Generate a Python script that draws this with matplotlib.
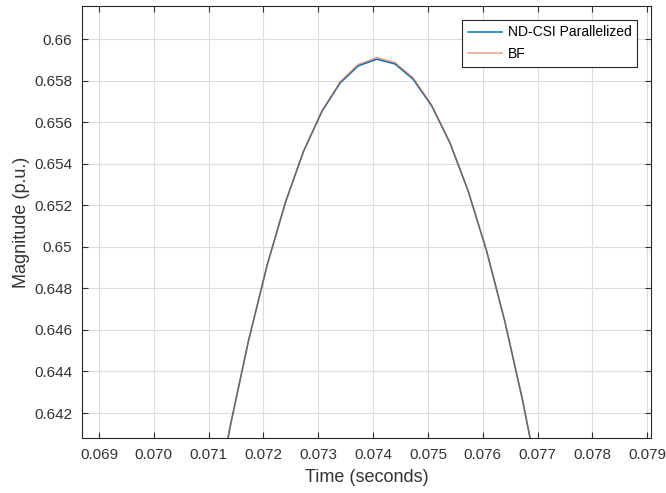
import matplotlib
matplotlib.use("Agg")
import matplotlib.pyplot as plt

# ---------------- DATA ----------------
time_s = [0.07107, 0.07140, 0.07173, 0.07207, 0.07240, 0.07273, 0.07307,
          0.07340, 0.07373, 0.07407, 0.07440, 0.07473, 0.07507, 0.07540,
          0.07573, 0.07607, 0.07640, 0.07673, 0.07707]

nd_csi = [0.63685, 0.64144, 0.64551, 0.64914, 0.65213, 0.65459, 0.65653,
          0.65789, 0.65871, 0.65903, 0.65880, 0.65807, 0.65678, 0.65501,
          0.65272, 0.64981, 0.64645, 0.64258, 0.63805]

bf = [0.63685, 0.64144, 0.64551, 0.64914, 0.65213, 0.65459, 0.65656,
      0.65794, 0.65878, 0.65910, 0.65887, 0.65813, 0.65682, 0.65503,
      0.65273, 0.64981, 0.64645, 0.64258, 0.63805]

x_ticks = [0.069, 0.070, 0.071, 0.072, 0.073, 0.074, 0.075, 0.076, 0.077, 0.078, 0.079]
x_tick_labels = ["0.069", "0.070", "0.071", "0.072", "0.073", "0.074",
                 "0.075", "0.076", "0.077", "0.078", "0.079"]
y_ticks = [0.642, 0.644, 0.646, 0.648, 0.650, 0.652, 0.654, 0.656, 0.658, 0.660]
y_tick_labels = ["0.642", "0.644", "0.646", "0.648", "0.65", "0.652",
                 "0.654", "0.656", "0.658", "0.66"]

X_LIM = (0.06869, 0.07907)
Y_LIM = (0.64080, 0.66159)

TEXT_COLOR = "#333333"
plt.rcParams["font.family"] = ["Liberation Sans", "DejaVu Sans"]

fig = plt.figure(figsize=(6.66, 4.93), dpi=100)
ax = fig.add_axes([0.1231, 0.1116, 0.8544, 0.8762])

ax.plot(time_s, nd_csi, color="#0072BD", lw=1.1, label="ND-CSI Parallelized")
ax.plot(time_s, bf, color="#D95319", lw=1.1, alpha=0.55, label="BF")

ax.set_xlim(*X_LIM)
ax.set_ylim(*Y_LIM)
ax.set_xticks(x_ticks)
ax.set_xticklabels(x_tick_labels)
ax.set_yticks(y_ticks)
ax.set_yticklabels(y_tick_labels)

ax.grid(True, color="#dcdcdc", lw=0.8)
ax.set_axisbelow(True)
ax.tick_params(direction="in", top=True, right=True, length=4, width=0.8,
               colors=TEXT_COLOR, labelsize=11, pad=7)
for sp in ax.spines.values():
    sp.set_color("#262626")
    sp.set_linewidth(0.8)

ax.set_xlabel("Time (seconds)", fontsize=13, color=TEXT_COLOR, labelpad=5)
ax.set_ylabel("Magnitude (p.u.)", fontsize=13, color=TEXT_COLOR, labelpad=3)

leg = ax.legend(loc="upper right", fontsize=10, frameon=True, fancybox=False,
                borderaxespad=1.0, handlelength=2.5, handletextpad=0.4,
                borderpad=0.4, labelspacing=0.55)
leg.get_frame().set_edgecolor("#262626")
leg.get_frame().set_linewidth(0.8)
leg.get_frame().set_alpha(1.0)

fig.savefig("out.png", dpi=100, facecolor="white")
